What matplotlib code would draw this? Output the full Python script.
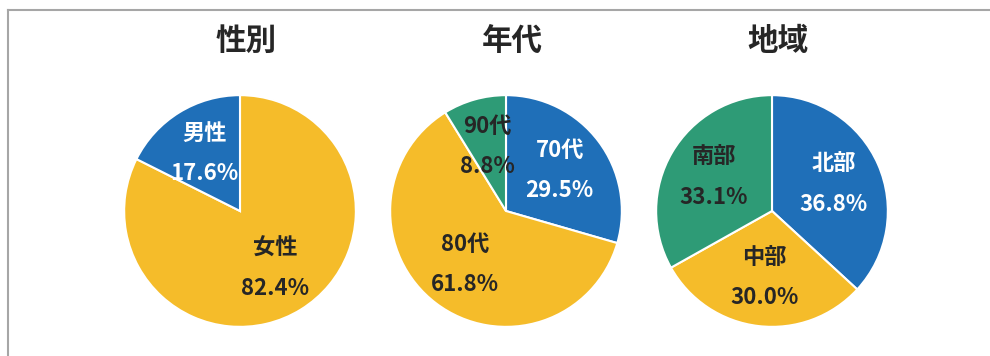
import matplotlib
matplotlib.use('Agg')
import matplotlib.pyplot as plt
from matplotlib.lines import Line2D

plt.rcParams['font.family'] = ['Noto Sans CJK JP', 'DejaVu Sans']

# data
titles = ['性別', '年代', '地域']
gender_labels = ['女性', '男性']
gender_values = [82.4, 17.6]
age_labels = ['70代', '80代', '90代']
age_values = [29.5, 61.8, 8.8]
region_labels = ['北部', '中部', '南部']
region_values = [36.8, 30.0, 33.1]

BLUE = '#1f6fb8'
YELLOW = '#f5bc2a'
GREEN = '#2e9b76'
DARK = '#262626'

charts = [
    (gender_labels, gender_values, [YELLOW, BLUE], [DARK, 'white']),
    (age_labels, age_values, [BLUE, YELLOW, GREEN], ['white', DARK, DARK]),
    (region_labels, region_values, [BLUE, YELLOW, GREEN], ['white', DARK, DARK]),
]

W, H = 990, 356
fig = plt.figure(figsize=(W / 100, H / 100), dpi=100)
fig.patch.set_facecolor('white')

# frame line (top + left), continues past the image edges
fig.add_artist(Line2D([8 / W, 8 / W], [0, 1 - 10 / H], transform=fig.transFigure,
                      color='#a6a6a6', lw=1.5))
fig.add_artist(Line2D([8 / W, 1], [1 - 10 / H, 1 - 10 / H], transform=fig.transFigure,
                      color='#a6a6a6', lw=1.5))

centers_x = [240, 506, 772]
cy = 211
r = 117

for (labels, values, colors, tcolors), cx, title in zip(charts, centers_x, titles):
    ax = fig.add_axes([(cx - r) / W, (H - cy - r) / H, 2 * r / W, 2 * r / H])
    texts = [f'{l}\n{v:.1f}%' for l, v in zip(labels, values)]
    wedges, txts = ax.pie(values, labels=texts, colors=colors, startangle=90,
                          counterclock=False, labeldistance=0.58,
                          wedgeprops=dict(edgecolor='white', linewidth=1.5),
                          textprops=dict(fontsize=16, fontweight='bold',
                                         ha='center', va='center', linespacing=1.95))
    for t, c in zip(txts, tcolors):
        t.set_color(c)
        t.set_horizontalalignment('center')
    ax.set_xlim(-1.01, 1.01)
    ax.set_ylim(-1.01, 1.01)
    fig.text((cx + 6) / W, 1 - 41 / H, title, ha='center', va='center',
             fontsize=22, fontweight='bold', color=DARK)

fig.savefig('out.png', dpi=100)
